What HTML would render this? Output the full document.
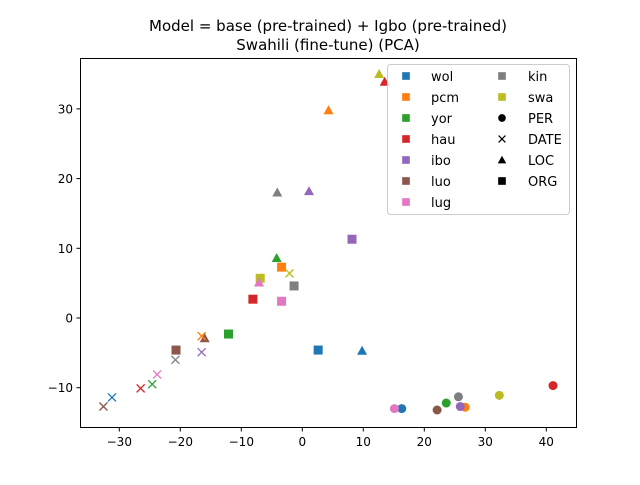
<!DOCTYPE html>
<html><head><meta charset="utf-8"><style>
body{margin:0;background:#fff}
svg text{font-family:"DejaVu Sans","Liberation Sans",sans-serif}
</style></head><body>
<svg id="chart" width="640" height="480" xmlns="http://www.w3.org/2000/svg">
<rect width="640" height="480" fill="#fff"/>
<text x="328" y="31" text-anchor="middle" font-size="15">Model = base (pre-trained) + Igbo (pre-trained)</text>
<text x="328" y="50" text-anchor="middle" font-size="15">Swahili (fine-tune) (PCA)</text>
<g id="marks"></g>
<rect x="80.5" y="58.5" width="496" height="369" fill="none" stroke="#000" stroke-width="1"/>
<g id="axes"></g>
<g id="legend"></g>
</svg>
<script>
const langs=["wol","pcm","yor","hau","ibo","luo","lug","kin","swa"];
const colors=["#1f77b4","#ff7f0e","#2ca02c","#d62728","#9467bd","#8c564b","#e377c2","#7f7f7f","#bcbd22"];
const perX=[16.3,26.7,23.6,41.1,25.9,22.1,15.1,25.6,32.3];
const perY=[-13.0,-12.8,-12.2,-9.7,-12.7,-13.2,-13.0,-11.3,-11.1];
const dateX=[-31.2,-16.5,-24.6,-26.5,-16.5,-32.6,-23.8,-20.8,-2.1];
const dateY=[-11.4,-2.6,-9.5,-10.1,-4.9,-12.7,-8.1,-6.0,6.4];
const locX=[9.8,4.3,-4.2,13.5,1.1,-16.0,-7.1,-4.1,12.6];
const locY=[-4.7,29.8,8.6,33.9,18.2,-2.9,5.1,18.0,35.0];
const orgX=[2.6,-3.4,-12.1,-8.1,8.15,-20.7,-3.4,-1.35,-6.9];
const orgY=[-4.6,7.3,-2.3,2.7,11.3,-4.6,2.4,4.6,5.7];
const xTicks=[-30,-20,-10,0,10,20,30,40];
const yTicks=[-10,0,10,20,30];
const NS="http://www.w3.org/2000/svg";
const sx=v=>302.3+v*6.1, sy=v=>318-v*6.97;
function mk(t,a,p){const e=document.createElementNS(NS,t);for(const k in a)e.setAttribute(k,a[k]);p.appendChild(e);return e;}
function marker(type,x,y,c,p,s){
 s=s||1;let e;
 if(type==="PER")e=mk("circle",{cx:x,cy:y,r:4.5*s,fill:c},p);
 else if(type==="ORG")e=mk("rect",{x:x-4.5*s,y:y-4.5*s,width:9*s,height:9*s,fill:c},p);
 else if(type==="LOC")e=mk("path",{d:`M${x},${y-5*s}L${x+5*s},${y+4*s}L${x-5*s},${y+4*s}Z`,fill:c},p);
 else e=mk("path",{d:`M${x-4*s},${y-4*s}L${x+4*s},${y+4*s}M${x-4*s},${y+4*s}L${x+4*s},${y-4*s}`,stroke:c,"stroke-width":1.3,fill:"none"},p);
 return e;
}
const g=document.getElementById("marks");
const sets=[["ORG",orgX,orgY],["LOC",locX,locY],["DATE",dateX,dateY],["PER",perX,perY]];
sets.forEach(([t,X,Y])=>{langs.forEach((l,i)=>{
 const e=marker(t,sx(X[i]),sy(Y[i]),colors[i],g);
 
 
});});
const ax=document.getElementById("axes");
xTicks.forEach(v=>{
 const l=mk("line",{x1:sx(v),x2:sx(v),y1:427.5,y2:431.5,stroke:"#000"},ax);
 
 
 const t=mk("text",{x:sx(v),y:446,"text-anchor":"middle","font-size":"12"},ax);
 t.textContent=(v<0?"\u2212"+(-v):v);
 
 
});
yTicks.forEach(v=>{
 const l=mk("line",{x1:76.5,x2:80.5,y1:sy(v),y2:sy(v),stroke:"#000"},ax);
 
 
 const t=mk("text",{x:73,y:sy(v)+4.5,"text-anchor":"end","font-size":"12"},ax);
 t.textContent=(v<0?"\u2212"+(-v):v);
 
 
});
const lg=document.getElementById("legend");
const box=mk("rect",{x:387.5,y:64.5,width:182,height:150,rx:3,fill:"#fff","fill-opacity":0.8,stroke:"#ccc"},lg);


const rows=[76,97,118,139,160,181,202];
const entries=langs.map((l,i)=>({label:l,type:"ORG",c:colors[i]})).concat(["PER","DATE","LOC","ORG"].map(t=>({label:t,type:t,c:"#000"})));
entries.forEach((en,i)=>{
 const col=i<7?0:1,row=i<7?i:i-7;
 const mxp=col?502:406,tx=col?528:431,y=rows[row];
 const m=marker(en.type,mxp,y,en.c,lg,0.85);
 
 
 const t=mk("text",{x:tx,y:y+5,"font-size":"13"},lg);
 t.textContent=en.label;
 
 
});
</script>
</body></html>
